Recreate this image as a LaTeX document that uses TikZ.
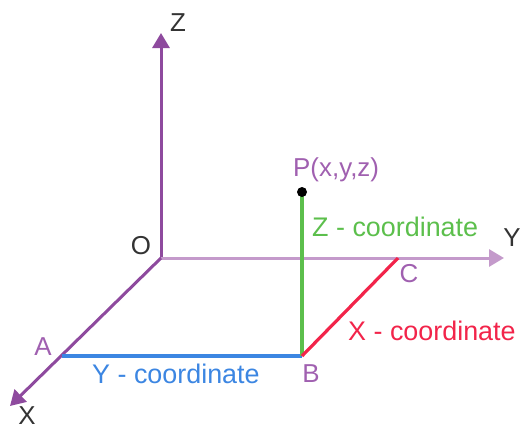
\documentclass[tikz,border=0pt]{standalone}
\usepackage{fontspec}
\setmainfont{Liberation Sans}
\usetikzlibrary{arrows.meta}
\definecolor{axpurple}{HTML}{8E4A9E}
\definecolor{axlight}{HTML}{C49ACB}
\definecolor{lblpurple}{HTML}{A060B0}
\definecolor{zgreen}{HTML}{5CBF4C}
\definecolor{yblue}{HTML}{3C86E2}
\definecolor{xred}{HTML}{F2244A}
\definecolor{dark}{HTML}{333333}
\tikzset{
  axis/.style={line width=3bp, axpurple, -{Triangle[length=15bp,width=17bp]}},
  axlabel/.style={text=dark, font=\fontsize{26}{26}\selectfont, inner sep=0pt},
  ptlabel/.style={text=lblpurple, font=\fontsize{26}{26}\selectfont, inner sep=0pt},
  coordlabel/.style={font=\fontsize{27}{27}\selectfont, inner sep=0pt},
}
\begin{document}
\begin{tikzpicture}[x=1bp,y=-1bp]
\useasboundingbox (0,0) rectangle (520,429);
\coordinate (O) at (161,258);
\coordinate (Zend) at (161,33);
\coordinate (Yend) at (504,258);
\coordinate (Xend) at (10,406);
\coordinate (A) at (62,356);
\coordinate (B) at (302,356);
\coordinate (C) at (398,258);
\coordinate (P) at (302,192);
% axes
\draw[axis] (O) -- (Zend);
\draw[axis, draw=axlight, fill=axpurple] (O) -- (Yend);
\draw[axis] (O) -- (Xend);
% coordinate lines
\draw[line width=4.5bp, yblue] (A) -- (B);
\draw[line width=4.5bp, zgreen] (B) -- (P);
\draw[line width=3.2bp, xred] (B) -- (C);
\fill[black] (P) circle (5bp);
% labels
\node[axlabel] (lz) at (178,23) {Z};
\node[axlabel] (ly) at (512,238) {Y};
\node[axlabel] (lx) at (27,416) {X};
\node[axlabel] (lo) at (141,246) {O};
\node[ptlabel] (la) at (43,347) {A};
\node[ptlabel] (lb) at (311,374) {B};
\node[ptlabel] (lc) at (409,274) {C};
\node[ptlabel, anchor=west] (lp) at (293,170) {P(x,y,z)};
\node[coordlabel, text=zgreen, anchor=west] (lzc) at (312,227) {Z - coordinate};
\node[coordlabel, text=yblue, anchor=west] (lyc) at (92,374) {Y - coordinate};
\node[coordlabel, text=xred, anchor=west] (lxc) at (348,331) {X - coordinate};
\end{tikzpicture}
\end{document}
